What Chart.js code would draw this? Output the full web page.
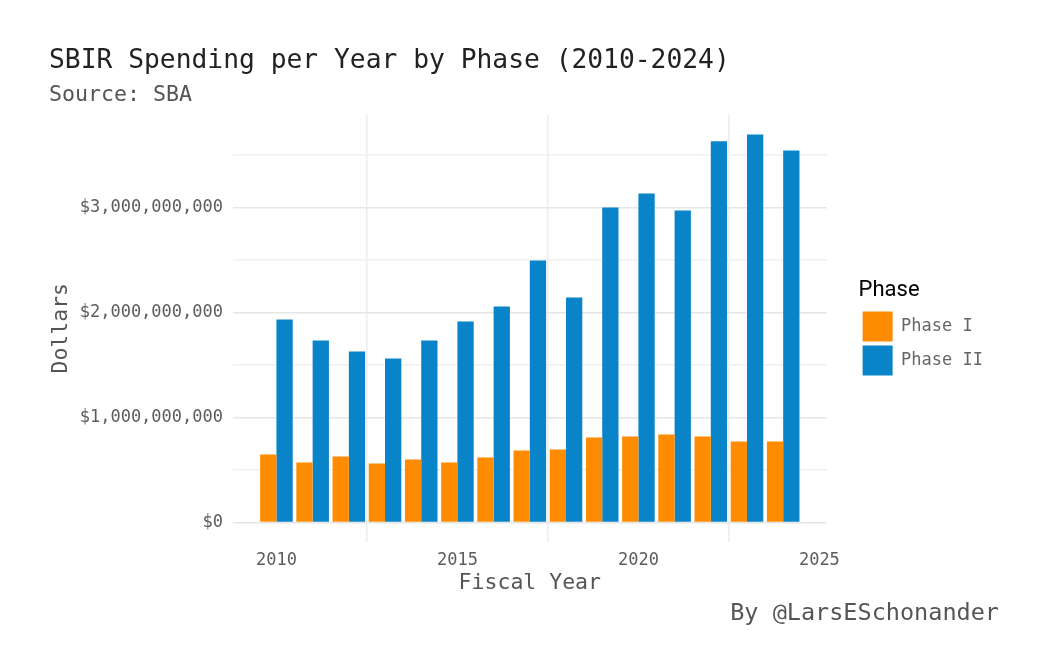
<!DOCTYPE html>
<html lang="en">
<head>
<meta charset="utf-8">
<title>SBIR Spending per Year by Phase</title>
<script src="https://cdn.jsdelivr.net/npm/chart.js@4.4.0/dist/chart.umd.min.js"></script>
<style>
  html, body { margin: 0; padding: 0; background: #fff; }
</style>
</head>
<body>
<canvas id="sbir" width="1050" height="648"></canvas>
<script>
// data (dollars)
var years = [2010, 2011, 2012, 2013, 2014, 2015, 2016, 2017, 2018, 2019, 2020, 2021, 2022, 2023, 2024];
var phaseOne = [648e6, 571e6, 629e6, 562e6, 600e6, 571e6, 619e6, 686e6, 695e6, 810e6, 819e6, 838e6, 819e6, 771e6, 771e6];
var phaseTwo = [1933e6, 1733e6, 1629e6, 1562e6, 1733e6, 1914e6, 2057e6, 2495e6, 2143e6, 3000e6, 3133e6, 2971e6, 3629e6, 3695e6, 3543e6];
var yearTicks = [2010, 2012.5, 2015, 2017.5, 2020, 2022.5, 2025];
var dollarTicks = [0, 5e8, 1e9, 1.5e9, 2e9, 2.5e9, 3e9, 3.5e9];
var captionText = 'By @LarsESchonander';

var mono = 'DejaVu Sans Mono';
Chart.defaults.font.family = mono;

var toPoints = function(vals) {
  return years.map(function(y, i) { return {x: y, y: vals[i]}; });
};

var captionPlugin = {
  id: 'caption',
  afterDraw: function(chart) {
    var c = chart.ctx;
    c.save();
    c.font = '23.5px "' + mono + '"';
    c.fillStyle = '#555';
    c.textAlign = 'right';
    c.textBaseline = 'middle';
    c.fillText(captionText, 999, 614);
    c.restore();
  }
};

var ctx = document.getElementById('sbir').getContext('2d');
var chart = new Chart(ctx, {
  type: 'bar',
  data: {
    datasets: [{
      label: 'Phase I',
      data: toPoints(phaseOne),
      backgroundColor: '#FF8C00',
      barPercentage: 1.0,
      categoryPercentage: 0.9
    }, {
      label: 'Phase II',
      data: toPoints(phaseTwo),
      backgroundColor: '#0984C8',
      barPercentage: 1.0,
      categoryPercentage: 0.9
    }]
  },
  options: {
    responsive: false,
    animation: false,
    events: [],
    layout: { padding: { left: 49, right: 57, top: 33, bottom: 52 } },
    plugins: {
      title: {
        display: true,
        text: 'SBIR Spending per Year by Phase (2010-2024)',
        align: 'start',
        color: '#222',
        font: { size: 26.3, weight: 'normal' },
        padding: { top: 12, bottom: 4 }
      },
      subtitle: {
        display: true,
        text: 'Source: SBA',
        align: 'start',
        color: '#555',
        font: { size: 21.6 },
        padding: { top: 2, bottom: 6 }
      },
      legend: {
        position: 'right',
        align: 'start',
        title: {
          display: true,
          text: 'Phase',
          position: 'start',
          color: '#000',
          font: { family: 'Roboto', size: 22 },
          padding: { top: 246, bottom: 2 }
        },
        labels: {
          boxWidth: 30,
          boxHeight: 30,
          padding: 4,
          color: '#666',
          font: { size: 17 }
        }
      },
      tooltip: { enabled: false }
    },
    scales: {
      x: {
        type: 'linear',
        min: 2008.8,
        max: 2025.2,
        offset: false,
        afterBuildTicks: function(scale) {
          scale.ticks = yearTicks.map(function(v) { return {value: v}; });
        },
        afterFit: function(scale) { scale.height = 54; },
        ticks: {
          autoSkip: false,
          maxRotation: 0,
          padding: 8,
          color: '#5c5c5c',
          font: { size: 17 },
          callback: function(v) { return v % 5 === 0 ? String(v) : ''; }
        },
        grid: {
          offset: false,
          drawTicks: false,
          lineWidth: 1.5,
          color: function(c) {
            return c.tick && c.tick.value % 5 !== 0 ? '#ededed' : 'rgba(0,0,0,0)';
          }
        },
        border: { display: false },
        title: {
          display: true,
          text: 'Fiscal Year',
          color: '#555',
          font: { size: 21.5 },
          padding: { top: 0, bottom: 0 }
        }
      },
      y: {
        min: -185e6,
        max: 3885e6,
        afterBuildTicks: function(scale) {
          scale.ticks = dollarTicks.map(function(v) { return {value: v}; });
        },
        afterFit: function(scale) { scale.width = 184; },
        ticks: {
          padding: 10,
          color: '#5c5c5c',
          font: { size: 17 },
          callback: function(v) {
            return v % 1e9 === 0 ? '$' + v.toLocaleString('en-US') : '';
          }
        },
        grid: {
          drawTicks: false,
          lineWidth: 1.5,
          color: function(c) {
            return c.tick && c.tick.value % 1e9 === 0 ? '#e6e6e6' : '#f0f0f0';
          }
        },
        border: { display: false },
        title: {
          display: true,
          text: 'Dollars',
          color: '#555',
          font: { size: 21.5 },
          padding: { top: 0, bottom: 4 }
        }
      },
      // empty spacer between panel and legend
      gap: {
        position: 'right',
        display: true,
        ticks: { display: false },
        grid: { display: false },
        border: { display: false },
        afterFit: function(scale) { scale.width = 32; }
      }
    }
  },
  plugins: [captionPlugin]
});
</script>
</body>
</html>
